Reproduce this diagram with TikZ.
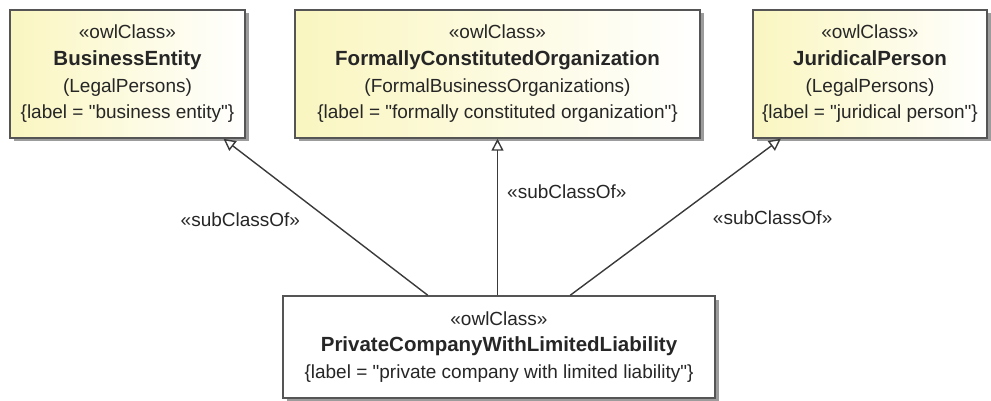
\documentclass[tikz,border=0pt]{standalone}
\usepackage{fontspec}
\setmainfont{Liberation Sans}[Ligatures=TeXOff]
\usetikzlibrary{arrows.meta,shadows}
\definecolor{boxline}{HTML}{555555}
\definecolor{boxcream}{HTML}{FAF6C0}
\definecolor{shadowgray}{HTML}{9C9C9C}
\definecolor{linkgray}{HTML}{3A3A3A}
\newcommand{\classname}[1]{{\fontsize{20.5}{26.7}\selectfont\bfseries #1}}
\begin{document}
\begin{tikzpicture}[x=1pt,y=-1pt,
    owlbox/.style={draw=boxline, line width=1.5pt, align=center, inner sep=0pt,
        font=\fontsize{19}{26.7}\selectfont, text=black!85,
        drop shadow={shadow xshift=3.5pt, shadow yshift=-3.5pt, fill=shadowgray, opacity=1}},
    topbox/.style={owlbox, minimum width=235pt, minimum height=128pt,
        left color=boxcream, right color=white},
    subclass/.style={draw=linkgray, line width=1.4pt,
        -{Triangle[open, length=12pt, width=12pt]}},
    stereo/.style={font=\fontsize{19}{22}\selectfont, text=black!85, inner sep=1pt}]
    \useasboundingbox (0,0) rectangle (991,401);
    % super classes
    \node[topbox] (be) at (127.5,74) {«owlClass»\\ \classname{BusinessEntity}\\
        (LegalPersons)\\ \{label = "business entity"\}};
    \node[topbox, minimum width=405pt] (fco) at (497.5,74) {«owlClass»\\
        \classname{FormallyConstitutedOrganization}\\ (FormalBusinessOrganizations)\\
        \{label = "formally constituted organization"\}};
    \node[topbox, minimum width=234pt] (jp) at (870,74) {«owlClass»\\
        \classname{JuridicalPerson}\\ (LegalPersons)\\ \{label = "juridical person"\}};
    % sub class
    \node[owlbox, fill=white, minimum width=432pt, minimum height=102pt] (pc) at (499,347)
        {«owlClass»\\ \classname{PrivateCompanyWithLimitedLiability}\\
        \{label = "private company with limited liability"\}};
    % generalisations
    \draw[subclass] (pc.144) -- node[stereo, pos=0.48, left=28pt] {«subClassOf»} (be.-34);
    \draw[subclass] (pc.north -| fco.south) -- node[stereo, pos=0.66, right=8pt] {«subClassOf»} (fco.south);
    \draw[subclass] (pc.36) -- node[stereo, pos=0.494, right=37pt] {«subClassOf»} (jp.-144);
\end{tikzpicture}
\end{document}
